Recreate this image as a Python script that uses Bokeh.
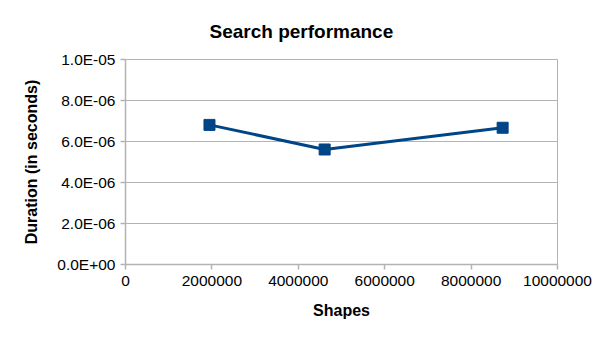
from bokeh.plotting import figure
from bokeh.models import Range1d, FixedTicker, CustomJSTickFormatter, BasicTickFormatter
from bokeh.embed import file_html
from bokeh.resources import INLINE

shapes = [1944000, 4610000, 8730000]
durations = [6.81e-06, 5.61e-06, 6.67e-06]
x_ticks = [0, 2000000, 4000000, 6000000, 8000000, 10000000]
y_ticks = [0.0, 2e-06, 4e-06, 6e-06, 8e-06, 1e-05]

BLUE = "#004586"
GREY = "#b3b3b3"
FONT = "Liberation Sans"

p = figure(width=605, height=340, output_backend="svg", toolbar_location=None,
           x_range=Range1d(0, 10000000), y_range=Range1d(0, 1e-05),
           min_border_left=125, min_border_right=48, min_border_top=59, min_border_bottom=76,
           title="Search performance")
p.background_fill_color = "white"
p.border_fill_color = "white"
p.outline_line_color = GREY
p.outline_line_width = 1

p.title.text_font = FONT
p.title.text_font_size = "19px"
p.title.text_font_style = "bold"
p.title.text_color = "black"
p.title.align = "left"
p.title.offset = 84
p.title.standoff = 35

p.line(shapes, durations, line_color=BLUE, line_width=3)
p.scatter(shapes, durations, marker="square", size=11, fill_color=BLUE, line_color=BLUE)

p.xgrid.grid_line_color = None
p.ygrid.grid_line_color = GREY
p.ygrid.grid_line_width = 1

p.xaxis.ticker = FixedTicker(ticks=x_ticks)
p.xaxis.formatter = BasicTickFormatter(use_scientific=False)
p.yaxis.ticker = FixedTicker(ticks=y_ticks)
p.yaxis.formatter = CustomJSTickFormatter(code="""
const s = tick.toExponential(1).split('e');
let e = parseInt(s[1]);
const sign = e < 0 ? '-' : '+';
e = Math.abs(e);
return s[0] + 'E' + sign + (e < 10 ? '0' : '') + e;
""")

for ax in (p.xaxis[0], p.yaxis[0]):
    ax.axis_line_color = GREY
    ax.axis_line_width = 1.5
    ax.major_tick_line_color = GREY
    ax.major_tick_line_width = 1.5
    ax.major_tick_out = 5
    ax.major_tick_in = 0
    ax.minor_tick_line_color = None
    ax.major_label_text_font = FONT
    ax.major_label_text_font_size = "15.5px"
    ax.major_label_text_color = "black"
    ax.axis_label_text_font = FONT
    ax.axis_label_text_font_size = "16px"
    ax.axis_label_text_font_style = "bold"
    ax.axis_label_text_color = "black"

p.xaxis.axis_label = "Shapes"
p.yaxis.axis_label = "Duration (in seconds)"
p.xaxis.major_label_standoff = 6
p.yaxis.major_label_standoff = 5
p.xaxis.axis_label_standoff = 13
p.yaxis.axis_label_standoff = 14

open("out.html", "w").write(file_html(p, INLINE))
